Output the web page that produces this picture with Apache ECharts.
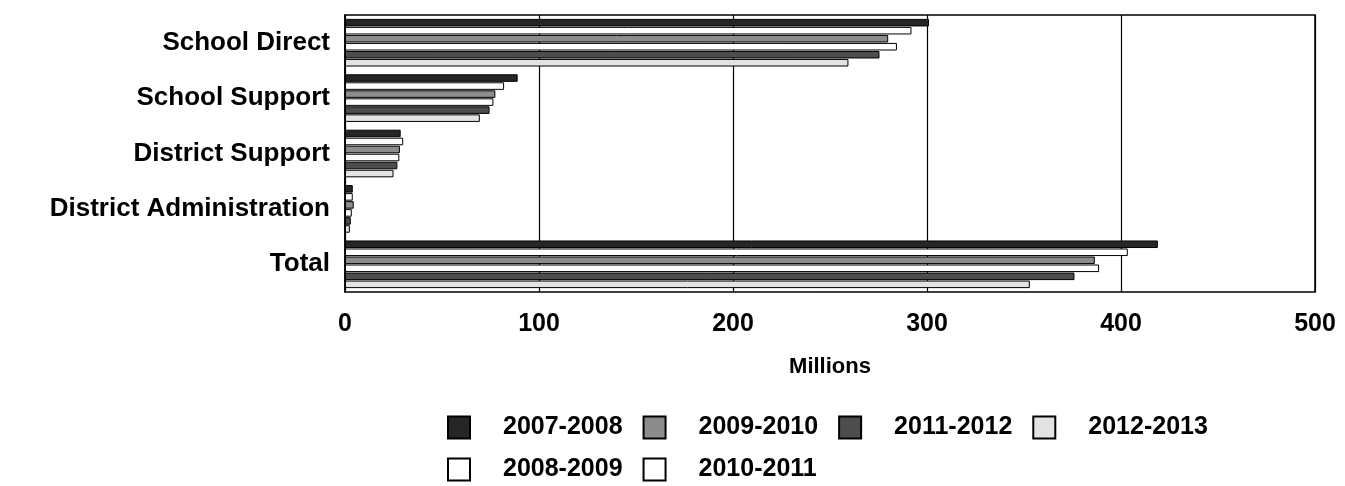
<!DOCTYPE html>
<html>
<head>
<meta charset="utf-8">
<script src="https://cdn.jsdelivr.net/npm/echarts@6/dist/echarts.min.js"></script>
<style>
  html, body { margin: 0; padding: 0; background: #fff; }
  #chart { width: 1345px; height: 486px; }
</style>
</head>
<body>
<div id="chart"></div>
<script>
// Spending by category, in millions
const categories = ['School Direct', 'School Support', 'District Support', 'District Administration', 'Total'];
const years = ['2007-2008', '2008-2009', '2009-2010', '2010-2011', '2011-2012', '2012-2013'];

const fy0708 = [301, 89, 28.7, 4, 419];
const fy0809 = [292, 82, 30, 4, 403.5];
const fy0910 = [280, 77.5, 28.3, 4.5, 386.5];
const fy1011 = [284.5, 76.5, 28, 3.5, 388.7];
const fy1112 = [275.5, 74.5, 27, 3, 376];
const fy1213 = [259.5, 69.5, 25, 2.5, 353];

const xTicks = [0, 100, 200, 300, 400, 500];

const seriesData = [fy0708, fy0809, fy0910, fy1011, fy1112, fy1213];
const fills = ['#262626', '#ffffff', '#8c8c8c', '#ffffff', '#4d4d4d', '#e3e3e3'];

const chartDom = document.getElementById('chart');
const myChart = echarts.init(chartDom);

const font = 'Liberation Sans, Arial, sans-serif';

const legendBase = {
  orient: 'horizontal',
  left: 442,
  itemWidth: 22,
  itemHeight: 22,
  itemGap: 20,
  icon: 'rect',
  selectedMode: false,
  textStyle: {
    fontFamily: font,
    fontWeight: 'bold',
    fontSize: 25,
    color: '#000',
    padding: [0, 0, 0, 28]
  }
};

const option = {
  backgroundColor: '#fff',
  animation: false,
  grid: {
    left: 345,
    right: 30,
    top: 15,
    bottom: 194,
    show: true,
    borderColor: '#000',
    borderWidth: 1.5
  },
  legend: [
    Object.assign({}, legendBase, { top: 410, data: ['2007-2008', '2009-2010', '2011-2012', '2012-2013'] }),
    Object.assign({}, legendBase, { top: 452, data: ['2008-2009', '2010-2011'] })
  ],
  xAxis: {
    type: 'value',
    min: xTicks[0],
    max: xTicks[xTicks.length - 1],
    interval: 100,
    name: 'Millions',
    nameLocation: 'middle',
    nameGap: 64,
    nameTextStyle: { fontFamily: font, fontWeight: 'bold', fontSize: 22, color: '#000' },
    axisLine: { show: false },
    axisTick: { show: false },
    axisLabel: { fontFamily: font, fontWeight: 'bold', fontSize: 25, color: '#000', margin: 20 },
    splitLine: { show: true, lineStyle: { color: '#000', width: 1.2 } }
  },
  yAxis: {
    type: 'category',
    data: categories,
    inverse: true,
    axisLine: { show: true, lineStyle: { color: '#000', width: 1.5 } },
    axisTick: { show: false },
    axisLabel: { fontFamily: font, fontWeight: 'bold', fontSize: 26, color: '#000', margin: 15 }
  },
  series: years.map((name, i) => ({
    name,
    type: 'bar',
    data: seriesData[i],
    barGap: '6%',
    barCategoryGap: '14%',
    itemStyle: { color: fills[i], borderColor: '#000', borderWidth: 1 }
  }))
};

myChart.setOption(option);
</script>
</body>
</html>
